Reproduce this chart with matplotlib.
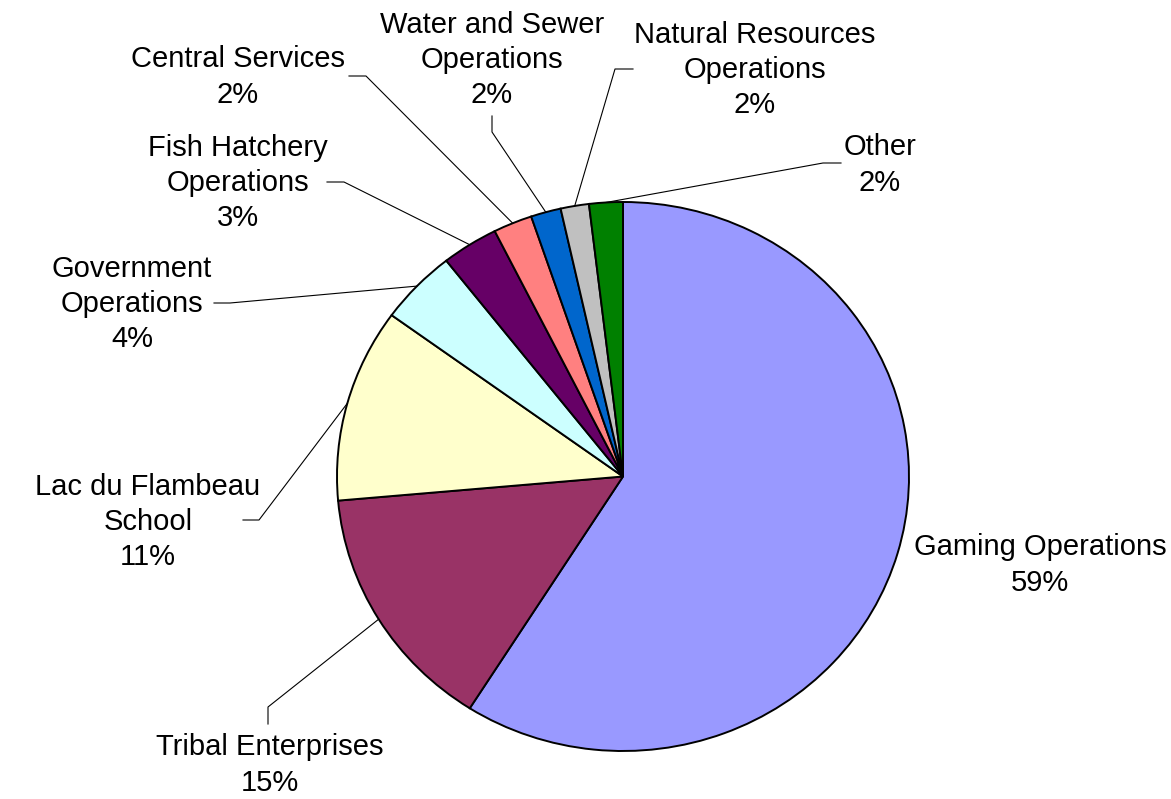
import numpy as np
import matplotlib
matplotlib.use("Agg")
import matplotlib.pyplot as plt

# data, clockwise from 12 o'clock
categories = ["Gaming Operations", "Tribal Enterprises", "Lac du Flambeau\nSchool",
              "Government\nOperations", "Fish Hatchery\nOperations", "Central Services",
              "Water and Sewer\nOperations", "Natural Resources\nOperations", "Other"]
values = [59.0, 14.6, 11.4, 4.4, 3.2, 2.2, 1.7, 1.6, 1.9]
colors = ["#9999FF", "#993366", "#FFFFCC", "#CCFFFF", "#660066",
          "#FF8080", "#0066CC", "#C0C0C0", "#008000"]

# label layout in pixels: text centre, leader start, leader elbow
label_layout = [
    ((1040, 565), None, None),
    ((270, 765), (268, 724), (268, 707)),
    ((148, 522), (243, 520), (259, 520)),
    ((132, 304), (214, 303), (230, 303)),
    ((238, 183), (327, 182), (344, 182)),
    ((238, 77), (349, 76), (366, 76)),
    ((492, 60), (492, 116), (492, 132)),
    ((755, 70), (633, 69), (615, 69)),
    ((880, 165), (841, 163), (823, 163)),
]

W, H = 1171, 799
CX, CY = 623, 476.5     # pie centre, pixels from top-left
RX, RY = 286, 274.5     # pie looks slightly squashed

plt.rcParams['font.family'] = ['Liberation Sans', 'DejaVu Sans']

fig = plt.figure(figsize=(W / 100, H / 100), dpi=100)
ax = fig.add_axes([0, 0, 1, 1])
wedges, _ = ax.pie(values, colors=colors, startangle=90, counterclock=False,
                   wedgeprops=dict(edgecolor='black', linewidth=1.4))
ax.set_aspect('auto')
ax.set_xlim(-CX / RX, (W - CX) / RX)
ax.set_ylim(-(H - CY) / RY, CY / RY)
ax.axis('off')


def px(x, y):
    return (x - CX) / RX, (CY - y) / RY


for w, cat, v, (tc, start, elbow) in zip(wedges, categories, values, label_layout):
    ax.text(*px(*tc), f"{cat}\n{v:.0f}%", ha='center', va='center',
            multialignment='center', fontsize=21, linespacing=1.32)
    if start is None:
        continue
    mid = np.deg2rad((w.theta1 + w.theta2) / 2)
    ex, ey = np.cos(mid), np.sin(mid)
    sx, sy = px(*start)
    bx, by = px(*elbow)
    ax.plot([sx, bx, ex], [sy, by, ey], color='black', lw=0.8)

fig.savefig("out.png", dpi=100)
